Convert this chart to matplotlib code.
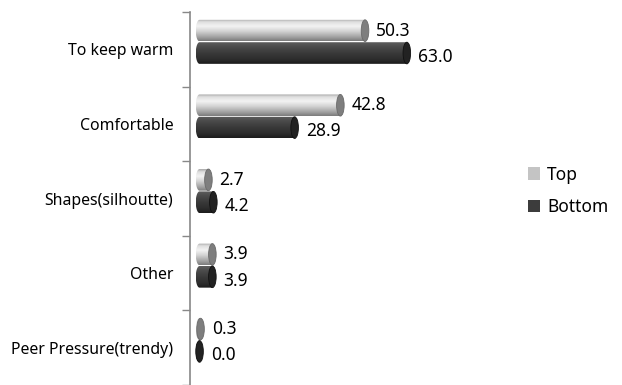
import numpy as np
import matplotlib.pyplot as plt
from matplotlib.patches import Polygon, Ellipse, Patch
from matplotlib.colors import to_rgb

categories = ['To keep warm', 'Comfortable', 'Shapes(silhoutte)', 'Other', 'Peer Pressure(trendy)']
top_vals = [50.3, 42.8, 2.7, 3.9, 0.3]
bottom_vals = [63.0, 28.9, 4.2, 3.9, 0.0]
series_names = ['Top', 'Bottom']

plt.rcParams['font.family'] = ['Noto Sans', 'DejaVu Sans']

fig = plt.figure(figsize=(6.22, 3.85), dpi=100)
ax = fig.add_axes([190 / 622, 0.0, 280 / 622, 373 / 385])

XMIN, XMAX = -2.9, 82.2
YMIN, YMAX = 4.5, -0.5
bar_h = 0.29
cap_w = 2.3  # ellipse width in data units

# vertical gradient stops (top -> bottom visually)
grey_stops = [(0, '#a8a8a8'), (0.12, '#dedede'), (0.32, '#f3f3f3'), (0.55, '#d4d4d4'),
              (0.8, '#a6a6a6'), (1, '#7c7c7c')]
dark_stops = [(0, '#5e5e5e'), (0.2, '#4c4c4c'), (0.5, '#3a3a3a'), (0.8, '#2c2c2c'), (1, '#1c1c1c')]


def gradient(stops, n=64):
    pos = [s[0] for s in stops]
    cols = np.array([to_rgb(s[1]) for s in stops])
    t = np.linspace(0, 1, n)
    arr = np.stack([np.interp(t, pos, cols[:, k]) for k in range(3)], axis=-1)
    return arr[:, None, :]


def cylinder(x_len, yc, stops, cap_col, edge_col):
    rx, ry = cap_w / 2, bar_h / 2
    th = np.linspace(np.pi / 2, 3 * np.pi / 2, 40)
    pts = [(rx * np.cos(a), yc + ry * np.sin(a)) for a in th]
    pts += [(x_len, yc - ry), (x_len, yc + ry)]
    body = Polygon(pts, closed=True, facecolor='none', edgecolor='none')
    ax.add_patch(body)
    im = ax.imshow(gradient(stops), extent=(-rx, x_len + 0.01, yc + ry, yc - ry),
                   aspect='auto', origin='upper', interpolation='bilinear', zorder=2)
    im.set_clip_path(body)
    ax.add_patch(Ellipse((x_len, yc), cap_w, bar_h, facecolor=cap_col,
                         edgecolor=edge_col, linewidth=0.6, zorder=3))


y = np.arange(len(categories))
for i in range(len(categories)):
    yt = y[i] - 0.25
    yb = y[i] + 0.05
    cylinder(top_vals[i], yt, grey_stops, '#7e7e7e', '#6a6a6a')
    cylinder(bottom_vals[i], yb, dark_stops, '#222222', '#111111')
    ax.text(top_vals[i] + 3.4, yt, f'{top_vals[i]:.1f}', va='center', ha='left',
            fontsize=12.5, color='#000000')
    ax.text(bottom_vals[i] + 3.4, yb + 0.05, f'{bottom_vals[i]:.1f}', va='center', ha='left',
            fontsize=12.5, color='#000000')

ax.set_xlim(XMIN, XMAX)
ax.set_ylim(YMIN, YMAX)
ax.set_yticks(y)
ax.set_yticklabels(categories, fontsize=11.4)
ax.tick_params(axis='y', which='major', length=0, pad=12)
ax.set_yticks(np.arange(-0.5, 5, 1), minor=True)
ax.tick_params(axis='y', which='minor', length=6, color='#888888', width=1)
ax.set_xticks([])
for s in ['top', 'right', 'bottom']:
    ax.spines[s].set_visible(False)
ax.spines['left'].set_color('#888888')
ax.spines['left'].set_linewidth(1.2)

handles = [Patch(facecolor='#c4c4c4', edgecolor='none'), Patch(facecolor='#3c3c3c', edgecolor='none')]
fig.legend(handles, series_names, loc='center left', bbox_to_anchor=(528 / 622, 1 - 191 / 385),
           frameon=False, fontsize=12.5, handlelength=0.7, handleheight=0.7,
           handletextpad=0.4, labelspacing=0.85, borderaxespad=0, borderpad=0)

fig.savefig('out.png', dpi=100)
